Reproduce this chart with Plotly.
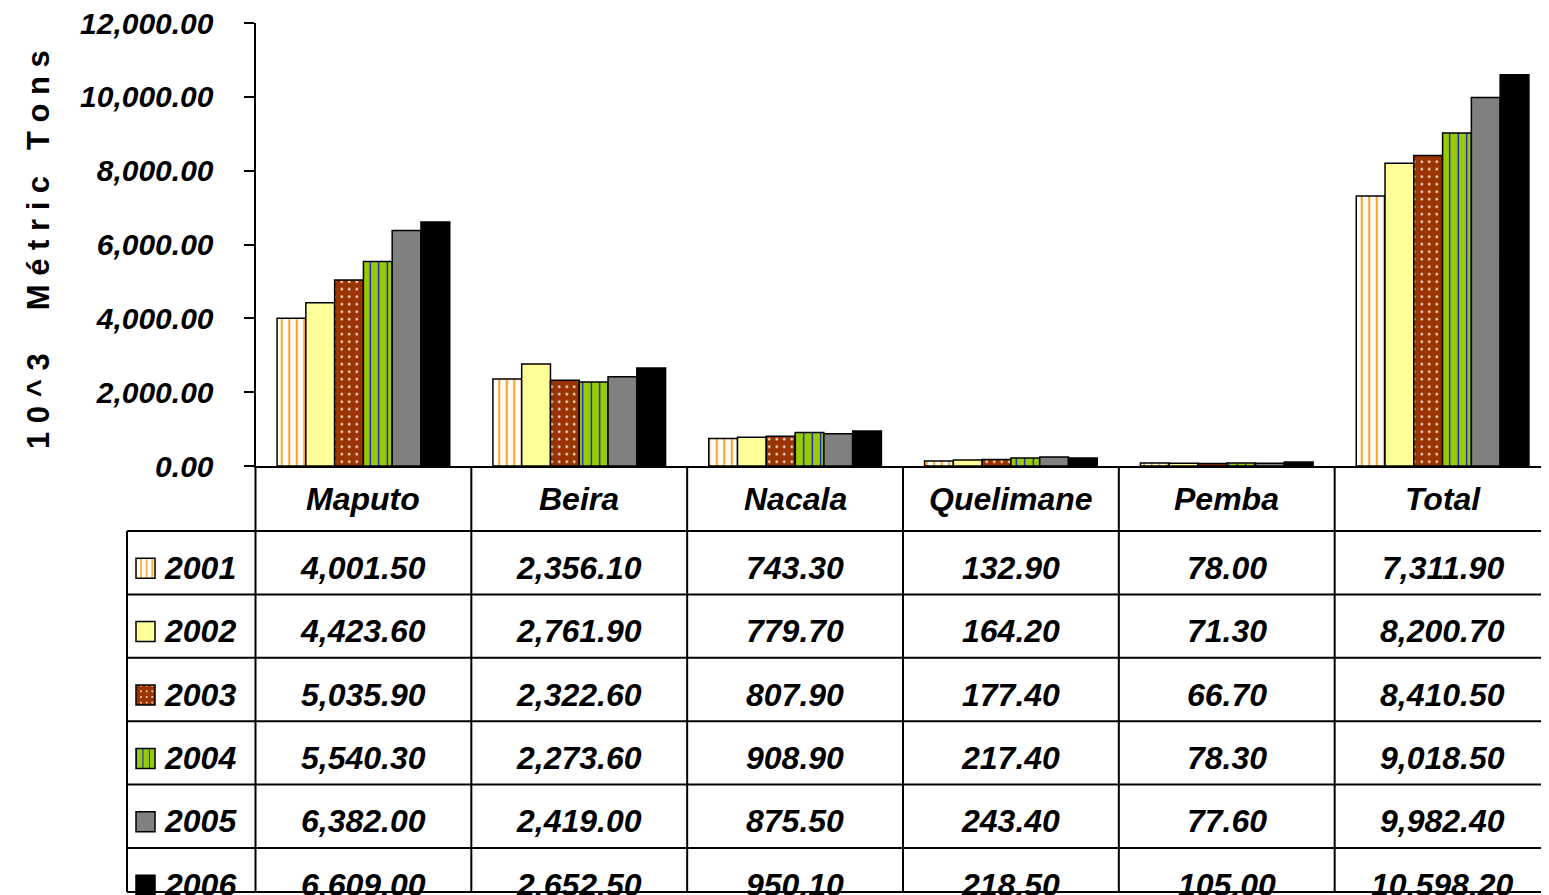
import plotly.graph_objects as go

# ---------------- data ----------------
categories = ["Maputo", "Beira", "Nacala", "Quelimane", "Pemba", "Total"]
years = ["2001", "2002", "2003", "2004", "2005", "2006"]
v2001 = [4001.50, 2356.10, 743.30, 132.90, 78.00, 7311.90]
v2002 = [4423.60, 2761.90, 779.70, 164.20, 71.30, 8200.70]
v2003 = [5035.90, 2322.60, 807.90, 177.40, 66.70, 8410.50]
v2004 = [5540.30, 2273.60, 908.90, 217.40, 78.30, 9018.50]
v2005 = [6382.00, 2419.00, 875.50, 243.40, 77.60, 9982.40]
v2006 = [6609.00, 2652.50, 950.10, 218.50, 105.00, 10598.20]
series = [v2001, v2002, v2003, v2004, v2005, v2006]
y_ticks = [0, 2000, 4000, 6000, 8000, 10000, 12000]
y_title = "10^3  Métric Tons"

# ---------------- styles ----------------
styles = [
    dict(bg="#FFFFFF", fg="#FFA320", shape="|", size=7.5, sol=0.28),
    dict(bg="#FFFF99", fg="#FFFF99", shape="", size=8, sol=0.3),
    dict(bg="#993300", fg="#FFE0D0", shape=".", size=7.5, sol=0.1),
    dict(bg="#99CC00", fg="#0000FF", shape="|", size=8.5, sol=0.14),
    dict(bg="#808080", fg="#808080", shape="", size=8, sol=0.3),
    dict(bg="#000000", fg="#000000", shape="", size=8, sol=0.3),
]

W, H = 1549, 895
FONT = "Liberation Sans, Arial, sans-serif"
BODY = 8  # page body margin offset

# pixel layout (screen coordinates)
px_left_axis = 255.5
px_right = 1550.5
px_top = 23
px_axis = 466
px_table_left = 127
header_h = 65
row_h = 63.4
px_bottom_line = 892


def fx(p):
    return (p - BODY) / W


def fy(p):
    return 1 - (p - BODY) / H


fig = go.Figure()

for yr, vals, st in zip(years, series, styles):
    pattern = dict(shape=st["shape"], fgcolor=st["fg"], bgcolor=st["bg"],
                   size=st["size"], solidity=st["sol"], fillmode="replace")
    fig.add_trace(go.Bar(
        x=categories, y=vals, name=yr,
        marker=dict(color=st["bg"], pattern=pattern,
                    line=dict(color="black", width=1.5)),
        xaxis="x", yaxis="y", showlegend=False, hoverinfo="x+y+name",
    ))

# legend keys in the table's first column (small horizontal bars on axis 2)
row_top = px_axis + header_h
key_offset = 5.5
v_top = -0.5 - key_offset / row_h
v_bot = v_top + (H + BODY - row_top) / row_h
for yr, st in zip(years, styles):
    pattern = dict(shape=st["shape"], fgcolor=st["fg"], bgcolor=st["bg"],
                   size=st["size"] * 0.75, solidity=st["sol"], fillmode="replace")
    fig.add_trace(go.Bar(
        y=[yr], x=[19], base=[9], orientation="h",
        width=20 / row_h, offset=-10 / row_h,
        marker=dict(color=st["bg"], pattern=pattern,
                    line=dict(color="black", width=1.5)),
        xaxis="x2", yaxis="y2", showlegend=False, hoverinfo="skip",
    ))

shapes = []
annotations = []
n = len(categories)
cat_w = (px_right - px_left_axis) / n

# vertical table lines
for i in range(n + 1):
    xp = px_left_axis + i * cat_w
    shapes.append(dict(type="line", xref="paper", yref="paper",
                       x0=fx(xp), x1=fx(xp), y0=fy(px_axis), y1=fy(px_bottom_line),
                       line=dict(color="black", width=2)))
shapes.append(dict(type="line", xref="paper", yref="paper",
                   x0=fx(px_table_left), x1=fx(px_table_left),
                   y0=fy(row_top), y1=fy(px_bottom_line),
                   line=dict(color="black", width=2)))
# horizontal table lines
for k in range(len(years)):
    yp = row_top + k * row_h
    shapes.append(dict(type="line", xref="paper", yref="paper",
                       x0=fx(px_table_left), x1=1, y0=fy(yp), y1=fy(yp),
                       line=dict(color="black", width=2)))
shapes.append(dict(type="line", xref="paper", yref="paper",
                   x0=fx(px_table_left), x1=1, y0=fy(px_bottom_line), y1=fy(px_bottom_line),
                   line=dict(color="black", width=2)))

tfont = dict(family=FONT, size=32, color="black", weight="bold", style="italic")
# header
for c in categories:
    annotations.append(dict(x=c, xref="x", y=fy(px_axis + header_h / 2 + 1), yref="paper",
                            text=c, showarrow=False, font=tfont,
                            xanchor="center", yanchor="middle"))
# rows
for k, (yr, vals) in enumerate(zip(years, series)):
    yc = row_top + k * row_h + row_h / 2 + 5
    annotations.append(dict(x=fx(200), xref="paper", y=fy(yc), yref="paper",
                            text=yr, showarrow=False, font=tfont,
                            xanchor="center", yanchor="middle"))
    for c, v in zip(categories, vals):
        annotations.append(dict(x=c, xref="x", y=fy(yc), yref="paper",
                                text=f"{v:,.2f}", showarrow=False, font=tfont,
                                xanchor="center", yanchor="middle"))

# y axis title with letter spacing
spaced = "\u00a0".join(list(y_title.replace(" ", "\u00a0")))
annotations.append(dict(x=fx(38), xref="paper", y=fy(250), yref="paper",
                        text=spaced, textangle=-90, showarrow=False,
                        font=dict(family=FONT, size=31, color="black", weight="bold"),
                        xanchor="center", yanchor="middle"))

fig.update_layout(
    width=W, height=H, autosize=False,
    margin=dict(l=0, r=0, t=0, b=0, pad=0, autoexpand=False),
    paper_bgcolor="white", plot_bgcolor="white",
    barmode="group", bargap=0.2, bargroupgap=0,
    xaxis=dict(domain=[fx(px_left_axis), fx(px_right)], showticklabels=False, ticks="",
               showline=True, linecolor="black", linewidth=2, showgrid=False,
               zeroline=False, fixedrange=True, automargin=False),
    yaxis=dict(domain=[fy(px_axis), fy(px_top)], range=[0, 12000], tickvals=y_ticks,
               tickformat=",.2f", ticks="outside", ticklen=10, tickwidth=2,
               tickcolor="black", showline=True, linecolor="black", linewidth=2,
               showgrid=False, zeroline=False, ticklabelstandoff=24, automargin=False,
               ticklabeloverflow="allow",
               tickfont=dict(family=FONT, size=30, color="black",
                             weight="bold", style="italic")),
    xaxis2=dict(domain=[fx(px_table_left), fx(px_left_axis)],
                range=[0, px_left_axis - px_table_left],
                visible=False, anchor="y2", fixedrange=True, automargin=False),
    yaxis2=dict(domain=[0, fy(row_top)], range=[v_bot, v_top], type="category",
                categoryorder="array", categoryarray=years,
                visible=False, anchor="x2", fixedrange=True, automargin=False),
    shapes=shapes,
    annotations=annotations,
)

fig.write_html("out.html")
